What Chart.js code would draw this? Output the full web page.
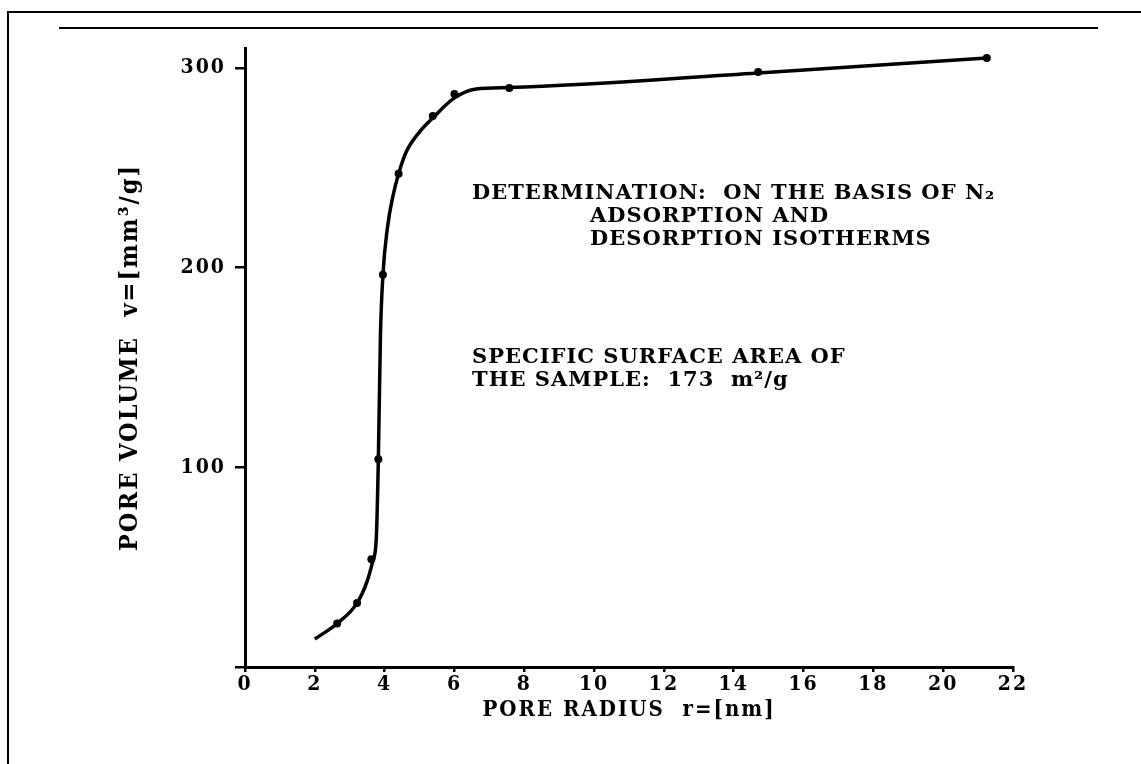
<!DOCTYPE html>
<html>
<head>
<meta charset="utf-8">
<script src="https://cdn.jsdelivr.net/npm/chart.js@4/dist/chart.umd.min.js"></script>
<style>
  html, body { margin: 0; padding: 0; background: #fff; }
  #sheet { position: relative; width: 1141px; height: 764px; overflow: hidden; background: #fff; }
  #sheet canvas { position: absolute; left: 0; top: 0; }
  .rule { position: absolute; background: #000; }
</style>
</head>
<body>
<div id="sheet">
  <div class="rule" style="left:7px; top:11px; width:1134px; height:2px;"></div>
  <div class="rule" style="left:7px; top:11px; width:2px; height:753px;"></div>
  <div class="rule" style="left:59px; top:27px; width:1039px; height:2px;"></div>
  <canvas id="poreChart" width="1141" height="764"></canvas>
</div>
<script>
// Smoothed pore-volume curve (radius in nm, volume in mm^3/g)
const curveRadius = [2.0, 2.64, 3.21, 3.5, 3.66, 3.76, 3.82, 3.88, 3.95, 4.08, 4.24, 4.40, 4.62, 5.0, 5.38, 6.0, 6.62, 7.57, 14.7, 21.25];
const curveVolume = [14, 21.8, 32, 43, 53, 64, 104, 166, 196, 220, 236, 247, 258, 268, 275, 285, 289.5, 290.2, 297.5, 305];

// Measured points from the N2 isotherms
const pointRadius = [2.64, 3.21, 3.62, 3.82, 3.95, 4.40, 5.38, 6.0, 7.57, 14.7, 21.25];
const pointVolume = [21.8, 32, 54, 104, 196.5, 247, 276, 287, 290, 298, 305];

// Axis ticks
const radiusTicks = [0, 2, 4, 6, 8, 10, 12, 14, 16, 18, 20, 22];
const volumeTicks = [0, 100, 200, 300];

// Notes printed inside the plot
const noteText = [
  'DETERMINATION:  ON THE BASIS OF N\u2082',
  'ADSORPTION AND',
  'DESORPTION ISOTHERMS',
  'SPECIFIC SURFACE AREA OF',
  'THE SAMPLE:  173  m\u00B2/g'
];

const ink = '#000';
const narrowSerif = '"DejaVu Serif Condensed", "DejaVu Serif", serif';
const wideSerif = '"DejaVu Serif", serif';
const tickFont = { family: narrowSerif, size: 21, weight: 'bold' };
const xTitleFont = { family: narrowSerif, size: 22, weight: 'bold' };
const yTitleFont = { family: narrowSerif, size: 25, weight: 'bold' };

// Printer-style spacing for axis text
const letterSpacingPlugin = {
  id: 'letterSpacing',
  beforeDraw(chart) { chart.ctx.letterSpacing = '2px'; }
};

// Notes block, left-aligned with a hanging indent for the continuation lines
const notesPlugin = {
  id: 'notes',
  afterDraw(chart) {
    const ctx = chart.ctx;
    const at = [[472, 194], [590, 217], [590, 240], [472, 358], [472, 381]];
    ctx.save();
    ctx.fillStyle = ink;
    ctx.font = 'bold 21px ' + wideSerif;
    ctx.letterSpacing = '1px';
    ctx.textAlign = 'left';
    ctx.textBaseline = 'middle';
    noteText.forEach((t, i) => ctx.fillText(t, at[i][0], at[i][1]));
    ctx.restore();
  }
};

new Chart(document.getElementById('poreChart'), {
  type: 'scatter',
  data: {
    datasets: [
      {
        label: 'curve',
        data: curveRadius.map((r, i) => ({ x: r, y: curveVolume[i] })),
        showLine: true,
        borderColor: ink,
        borderWidth: 3.5,
        pointRadius: 0,
        cubicInterpolationMode: 'monotone',
        fill: false
      },
      {
        label: 'measured',
        data: pointRadius.map((r, i) => ({ x: r, y: pointVolume[i] })),
        showLine: false,
        pointRadius: 4,
        pointBackgroundColor: ink,
        pointBorderColor: ink,
        pointBorderWidth: 0
      }
    ]
  },
  options: {
    responsive: false,
    animation: false,
    events: [],
    layout: { padding: { left: 0, right: 128, top: 48, bottom: 0 } },
    plugins: { legend: { display: false }, tooltip: { enabled: false }, title: { display: false } },
    scales: {
      x: {
        type: 'linear',
        min: 0,
        max: 22,
        afterBuildTicks: s => { s.ticks = radiusTicks.map(v => ({ value: v })); },
        afterFit: s => { s.height = 97; },
        border: { display: true, color: ink, width: 3 },
        grid: { display: true, drawOnChartArea: false, drawTicks: true, tickLength: 5, lineWidth: 2.5, color: ink },
        ticks: { color: ink, font: tickFont, padding: 0, maxRotation: 0, autoSkip: false },
        title: { display: true, text: 'PORE RADIUS  r=[nm]', color: ink, font: xTitleFont, padding: { top: 0, bottom: 41 } }
      },
      y: {
        type: 'linear',
        min: 0,
        max: 310,
        afterBuildTicks: s => { s.ticks = volumeTicks.map(v => ({ value: v })); },
        afterFit: s => { s.width = 245; },
        border: { display: true, color: ink, width: 3 },
        grid: { display: true, drawOnChartArea: false, drawTicks: true, tickLength: 10, lineWidth: 2.5, color: ink },
        ticks: { color: ink, font: tickFont, padding: 9, callback: v => (v === 0 ? '' : v) },
        title: { display: true, text: 'PORE VOLUME  v=[mm\u00B3/g]', color: ink, font: yTitleFont, padding: { top: 115, bottom: 0 } }
      }
    }
  },
  plugins: [letterSpacingPlugin, notesPlugin]
});
</script>
</body>
</html>
